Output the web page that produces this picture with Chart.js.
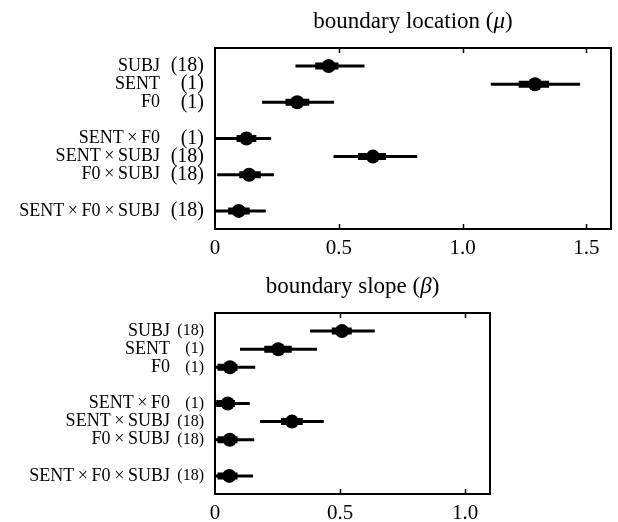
<!DOCTYPE html>
<html>
<head>
<meta charset="utf-8">
<script src="https://cdn.jsdelivr.net/npm/chart.js@4.4.0/dist/chart.umd.min.js"></script>
<style>
  body { margin: 0; background: #fff; }
  .panel { position: absolute; left: 0; }
  #top { top: 0; }
  #bottom { top: 262px; }
</style>
</head>
<body>
<div class="panel" id="top"><canvas id="locChart" width="618" height="262"></canvas></div>
<div class="panel" id="bottom"><canvas id="slopeChart" width="618" height="260"></canvas></div>
<script>
// model terms, listed top to bottom, with their group sizes
const terms = ['SUBJ', 'SENT', 'F0', 'SENT\u2009×\u2009F0', 'SENT\u2009×\u2009SUBJ', 'F0\u2009×\u2009SUBJ', 'SENT\u2009×\u2009F0\u2009×\u2009SUBJ'];
const counts = ['(18)', '(1)', '(1)', '(1)', '(18)', '(18)', '(18)'];
const rowPos = [0, 1, 2, 4, 5, 6, 8];

// boundary location (mu)
const muMean    = [0.459, 1.293, 0.332, 0.127, 0.638, 0.138, 0.096];
const muInnerLo = [0.405, 1.227, 0.285, 0.087, 0.578, 0.098, 0.053];
const muInnerHi = [0.499, 1.350, 0.381, 0.167, 0.691, 0.185, 0.140];
const muOuterLo = [0.325, 1.114, 0.190, 0.000, 0.479, 0.009, 0.000];
const muOuterHi = [0.604, 1.475, 0.481, 0.227, 0.817, 0.238, 0.205];
const muTicks = [0, 0.5, 1.0, 1.5];

// boundary slope (beta)
const betaMean    = [0.508, 0.253, 0.060, 0.051, 0.308, 0.059, 0.057];
const betaInnerLo = [0.467, 0.197, 0.010, 0.005, 0.264, 0.010, 0.010];
const betaInnerHi = [0.547, 0.307, 0.090, 0.080, 0.351, 0.090, 0.090];
const betaOuterLo = [0.380, 0.100, 0.000, 0.000, 0.180, 0.000, 0.000];
const betaOuterHi = [0.639, 0.408, 0.161, 0.139, 0.435, 0.157, 0.152];
const betaTicks = [0, 0.5, 1.0];

const SERIF = '"Liberation Serif", "Times New Roman", serif';

function segments(lo, hi) {
  const pts = [];
  lo.forEach((v, i) => {
    pts.push({x: v, y: rowPos[i]}, {x: hi[i], y: rowPos[i]}, {x: null, y: null});
  });
  return pts;
}

// frame, inward ticks, row labels and title
const forestPlugin = {
  id: 'forest',
  afterDraw(chart, args, opts) {
    const ctx = chart.ctx;
    const area = chart.chartArea;
    const xs = chart.scales.x, ys = chart.scales.y;
    ctx.save();
    ctx.strokeStyle = '#000';
    ctx.lineWidth = 2;
    ctx.strokeRect(area.left, area.top, area.right - area.left, area.bottom - area.top);

    ctx.lineWidth = 1.5;
    opts.ticks.forEach(v => {
      if (v === 0) return;
      const px = Math.round(xs.getPixelForValue(v)) + 0.5;
      ctx.beginPath();
      ctx.moveTo(px, area.top); ctx.lineTo(px, area.top + 5);
      ctx.moveTo(px, area.bottom); ctx.lineTo(px, area.bottom - 5);
      ctx.stroke();
    });

    ctx.fillStyle = '#000';
    ctx.textBaseline = 'middle';
    ctx.textAlign = 'right';
    terms.forEach((t, i) => {
      const py = ys.getPixelForValue(rowPos[i]);
      ctx.font = '18px ' + SERIF;
      ctx.fillText(t, opts.nameRight, py);
      ctx.font = opts.countSize + 'px ' + SERIF;
      ctx.fillText(counts[i], area.left - 11, py);
    });

    // title with italic greek letter
    const parts = [
      {text: opts.title + ' (', font: '23px ' + SERIF},
      {text: opts.greek, font: 'italic 23px ' + SERIF},
      {text: ')', font: '23px ' + SERIF}
    ];
    let total = 0;
    parts.forEach(p => { ctx.font = p.font; p.w = ctx.measureText(p.text).width; total += p.w; });
    let x = (area.left + area.right) / 2 - total / 2;
    ctx.textAlign = 'left';
    ctx.textBaseline = 'alphabetic';
    parts.forEach(p => { ctx.font = p.font; ctx.fillText(p.text, x, area.top - 20); x += p.w; });
    ctx.restore();
  }
};

function makeForest(id, o) {
  return new Chart(document.getElementById(id), {
    type: 'scatter',
    data: {
      datasets: [
        {
          data: segments(o.outerLo, o.outerHi),
          showLine: true, spanGaps: false,
          borderColor: '#000', borderWidth: 3, borderCapStyle: 'butt',
          pointRadius: 0
        },
        {
          data: segments(o.innerLo, o.innerHi),
          showLine: true, spanGaps: false,
          borderColor: '#000', borderWidth: 7, borderCapStyle: 'butt',
          pointRadius: 0
        },
        {
          data: o.mean.map((v, i) => ({x: v, y: rowPos[i]})),
          pointRadius: 7, backgroundColor: '#000', borderWidth: 0
        }
      ]
    },
    options: {
      responsive: false,
      animation: false,
      layout: { padding: { left: 215, right: o.padRight, top: o.padTop, bottom: 0 } },
      scales: {
        x: {
          type: 'linear',
          min: 0,
          max: o.xMax,
          afterBuildTicks: s => { s.ticks = o.ticks.map(v => ({value: v})); },
          afterFit: s => { s.height = o.axisHeight; },
          grid: { display: false, drawTicks: false },
          border: { display: false },
          ticks: {
            color: '#000',
            padding: 7,
            font: { family: SERIF, size: 21 },
            callback: v => v === 0 ? '0' : v.toFixed(1)
          }
        },
        y: { type: 'linear', min: -1, max: 9, reverse: true, display: false }
      },
      plugins: {
        legend: { display: false },
        tooltip: { enabled: false },
        forest: {
          title: o.title, greek: o.greek, ticks: o.ticks,
          nameRight: o.nameRight, countSize: o.countSize
        }
      }
    },
    plugins: [forestPlugin]
  });
}

makeForest('locChart', {
  title: 'boundary location', greek: 'μ',
  mean: muMean, innerLo: muInnerLo, innerHi: muInnerHi, outerLo: muOuterLo, outerHi: muOuterHi,
  xMax: 1.6, ticks: muTicks, padRight: 5, padTop: 48, axisHeight: 33,
  nameRight: 160, countSize: 20
});

makeForest('slopeChart', {
  title: 'boundary slope', greek: 'β',
  mean: betaMean, innerLo: betaInnerLo, innerHi: betaInnerHi, outerLo: betaOuterLo, outerHi: betaOuterHi,
  xMax: 1.1, ticks: betaTicks, padRight: 128, padTop: 51, axisHeight: 28,
  nameRight: 170, countSize: 16
});
</script>
</body>
</html>
